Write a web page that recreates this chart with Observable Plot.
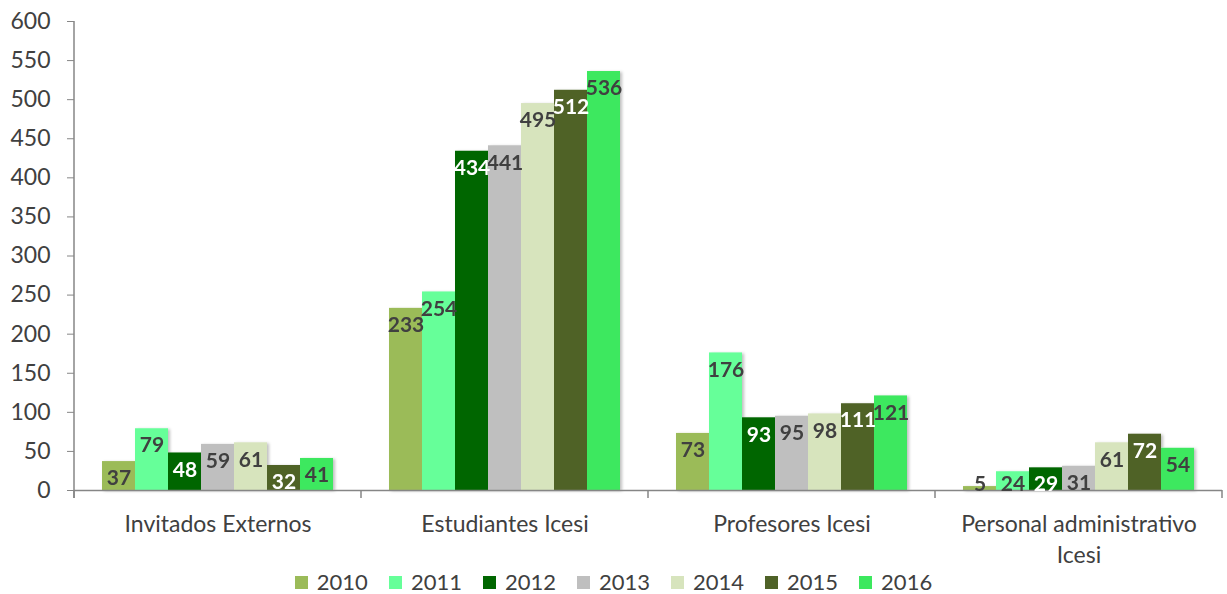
<!DOCTYPE html>
<html>
<head>
<meta charset="utf-8">
<script src="https://cdn.jsdelivr.net/npm/d3@7"></script>
<script src="https://cdn.jsdelivr.net/npm/@observablehq/plot@0.6"></script>
<style>
  html, body { margin: 0; padding: 0; background: #fff; }
  #chart { width: 1227px; height: 570px; }
  .legend { display: flex; justify-content: center; align-items: center; height: 24px; line-height: 24px; width: 1227px;
            font-family: Lato, sans-serif; font-size: 22px; color: #404040; }
  .legend .item { display: inline-flex; align-items: center; margin-right: 21px; }
  .legend .item:last-child { margin-right: 0; }
  .legend .sw { width: 13px; height: 13px; margin-right: 9px; display: inline-block; }
</style>
</head>
<body>
<div id="chart"></div>
<script>
const categories = ["Invitados Externos", "Estudiantes Icesi", "Profesores Icesi", "Personal administrativo Icesi"];
const years = ["2010", "2011", "2012", "2013", "2014", "2015", "2016"];
const v2010 = [37, 233, 73, 5];
const v2011 = [79, 254, 176, 24];
const v2012 = [48, 434, 93, 29];
const v2013 = [59, 441, 95, 31];
const v2014 = [61, 495, 98, 61];
const v2015 = [32, 512, 111, 72];
const v2016 = [41, 536, 121, 54];
const yTicks = [0, 50, 100, 150, 200, 250, 300, 350, 400, 450, 500, 550, 600];
const colors = ["#9BBB59", "#66FF99", "#006600", "#BFBFBF", "#D7E4BD", "#4F6228", "#3CE85E"];
const darkYears = ["2012", "2015"];

const series = [v2010, v2011, v2012, v2013, v2014, v2015, v2016];
const data = [];
categories.forEach((c, i) => years.forEach((yr, j) => data.push({cat: c, year: yr, value: series[j][i]})));

function wrap(s) {
  const words = s.split(" ");
  const lines = [];
  let cur = "";
  for (const w of words) {
    if (cur && (cur + " " + w).length > 23) { lines.push(cur); cur = w; }
    else cur = cur ? cur + " " + w : w;
  }
  lines.push(cur);
  return lines.join("\n");
}

const axisGray = "#868686";
const textColor = "#404040";

const plot = Plot.plot({
  width: 1227,
  height: 570,
  marginLeft: 73,
  marginRight: 4,
  marginTop: 21,
  marginBottom: 80,
  style: {fontFamily: "Lato, sans-serif", fontSize: "23px", color: textColor, background: "white"},
  fx: {domain: categories, padding: 0, label: null},
  x: {domain: years, paddingInner: 0, paddingOuter: 0.84, axis: null},
  y: {domain: [0, 600], label: null},
  color: {domain: years, range: colors},
  marks: [
    Plot.barY(data, {fx: "cat", x: "year", y: "value", fill: "year"}),
    Plot.ruleY([0], {stroke: axisGray, strokeWidth: 1.5}),
    Plot.axisY({ticks: yTicks, tickSize: 7, tickPadding: 17, stroke: axisGray, fill: textColor, fontSize: 23, label: null}),
    Plot.axisFx({anchor: "bottom", tickSize: 0, tickPadding: 19, fontSize: 23, lineHeight: 1.36, fill: textColor, tickFormat: wrap, label: null}),
    Plot.text(data.filter(d => !darkYears.includes(d.year)), {
      fx: "cat", x: "year", y: d => Math.max(d.value, 30), text: d => String(d.value),
      dy: 17, fill: textColor, fontWeight: "bold", fontSize: 21
    }),
    Plot.text(data.filter(d => darkYears.includes(d.year)), {
      fx: "cat", x: "year", y: d => Math.max(d.value, 30), text: d => String(d.value),
      dy: 17, fill: "white", fontWeight: "bold", fontSize: 21
    })
  ]
});

document.getElementById("chart").appendChild(plot);

// axis lines and group-boundary ticks from the plot's own scales
const svg = d3.select(plot);
const fx = plot.scale("fx");
const y = plot.scale("y");
const y0 = y.apply(0);
const y600 = y.apply(600);
const bounds = categories.map(c => fx.apply(c));
bounds.push(fx.apply(categories[categories.length - 1]) + fx.bandwidth);

// shadow filter on bars
const defs = svg.insert("defs", ":first-child");
const f = defs.append("filter").attr("id", "barShadow").attr("x", "-20%").attr("y", "-20%").attr("width", "150%").attr("height", "150%");
f.append("feDropShadow").attr("dx", 2).attr("dy", 1).attr("stdDeviation", 1.5).attr("flood-color", "#000").attr("flood-opacity", 0.25);
svg.selectAll("g[aria-label='bar']").attr("filter", "url(#barShadow)");

const g = svg.append("g").attr("stroke", axisGray).attr("stroke-width", 1.5);
g.append("line").attr("x1", bounds[0]).attr("x2", bounds[0]).attr("y1", y600).attr("y2", y0 + 8);
bounds.forEach(b => g.append("line").attr("x1", b).attr("x2", b).attr("y1", y0).attr("y2", y0 + 8));

// legend below the SVG
const legend = d3.select("body").append("div").attr("class", "legend");
years.forEach((yr, i) => {
  const it = legend.append("span").attr("class", "item");
  it.append("span").attr("class", "sw").style("background", colors[i]);
  it.append("span").text(yr);
});
</script>
</body>
</html>
